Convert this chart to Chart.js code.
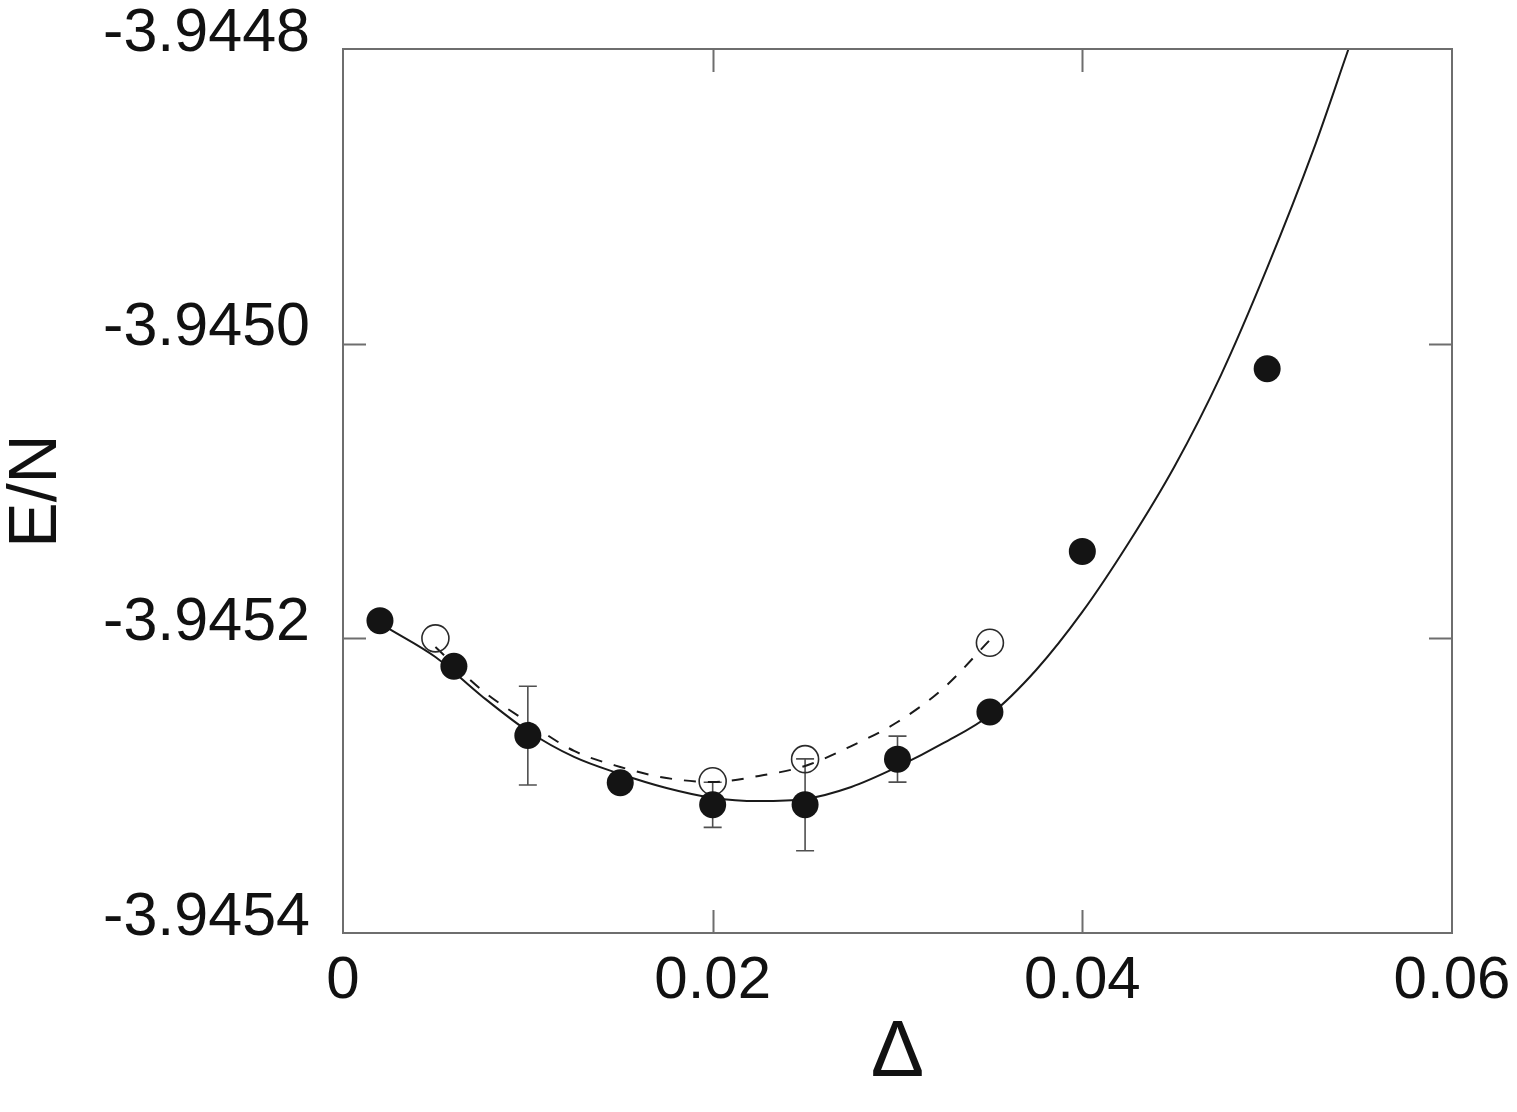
<!DOCTYPE html>
<html>
<head>
<meta charset="utf-8">
<script src="https://cdn.jsdelivr.net/npm/chart.js@4"></script>
<style>
  html, body { margin: 0; padding: 0; background: #fff; }
  #wrap { width: 1517px; height: 1112px; }
</style>
</head>
<body>
<div id="wrap"><canvas id="chart" width="1517" height="1112"></canvas></div>
<script>
// axis ticks
const xTicks = [0, 0.02, 0.04, 0.06];
const yTicks = [-3.9454, -3.9452, -3.9450, -3.9448];

// filled circles (with error bars where present)
const filledX = [0.002, 0.006, 0.010, 0.015, 0.020, 0.025, 0.030, 0.035, 0.040, 0.050];
const filledY = [-3.945188, -3.945219, -3.945266, -3.945298, -3.945313, -3.945313, -3.945282, -3.945250, -3.945141, -3.945017];
const filledErr = [null, null, 0.0000335, null, 0.0000153, 0.0000312, 0.0000156, null, null, null];

// open circles
const openX = [0.005, 0.020, 0.025, 0.035];
const openY = [-3.945200, -3.945297, -3.945282, -3.945203];

// solid fit curve
const fitX = [0.0025, 0.005, 0.0075, 0.010, 0.0125, 0.015, 0.0175, 0.020, 0.0225, 0.025, 0.0275,
  0.030, 0.0325, 0.035, 0.0375, 0.040, 0.0425, 0.045, 0.0475, 0.050, 0.0525, 0.0544];
const fitY = [-3.9451936, -3.9452127, -3.9452391, -3.9452629, -3.9452805, -3.9452921, -3.9453016,
  -3.9453083, -3.9453104, -3.9453090, -3.9453009, -3.9452873, -3.9452710, -3.9452520, -3.9452215,
  -3.9451821, -3.9451353, -3.9450830, -3.9450213, -3.9449486, -3.9448685, -3.9448000];

// dashed fit curve
const dashX = [0.005, 0.0075, 0.010, 0.0125, 0.015, 0.0175, 0.020, 0.0225, 0.025, 0.0275, 0.030, 0.0325, 0.035];
const dashY = [-3.9452059, -3.9452350, -3.9452568, -3.9452764, -3.9452873, -3.9452948, -3.9452975,
  -3.9452934, -3.9452866, -3.9452731, -3.9452568, -3.9452337, -3.9452011];

const pts = (xs, ys) => xs.map((x, i) => ({ x: x, y: ys[i] }));

const FONT = "'Liberation Sans', Arial, Helvetica, sans-serif";
const FRAME = "#6e6e6e";

// frame, inward ticks on all four sides, error bars
const framePlugin = {
  id: "frame",
  beforeDatasetsDraw(chart) {
    const ctx = chart.ctx;
    const xs = chart.scales.x, ys = chart.scales.y;
    ctx.save();
    ctx.strokeStyle = "#505050";
    ctx.lineWidth = 1.6;
    filledErr.forEach((e, i) => {
      if (e == null) return;
      const px = xs.getPixelForValue(filledX[i]);
      const top = ys.getPixelForValue(filledY[i] + e);
      const bot = ys.getPixelForValue(filledY[i] - e);
      ctx.beginPath();
      ctx.moveTo(px, top); ctx.lineTo(px, bot);
      ctx.moveTo(px - 9, top); ctx.lineTo(px + 9, top);
      ctx.moveTo(px - 9, bot); ctx.lineTo(px + 9, bot);
      ctx.stroke();
    });
    ctx.restore();
  },
  afterDatasetsDraw(chart) {
    const ctx = chart.ctx;
    const a = chart.chartArea;
    const xs = chart.scales.x, ys = chart.scales.y;
    const len = 23;
    ctx.save();
    ctx.strokeStyle = FRAME;
    ctx.lineWidth = 2;
    ctx.strokeRect(a.left, a.top, a.right - a.left, a.bottom - a.top);
    ctx.beginPath();
    xTicks.slice(1, -1).forEach(v => {
      const p = Math.round(xs.getPixelForValue(v)) + 0.5;
      ctx.moveTo(p, a.bottom); ctx.lineTo(p, a.bottom - len);
      ctx.moveTo(p, a.top); ctx.lineTo(p, a.top + len);
    });
    yTicks.slice(1, -1).forEach(v => {
      const p = Math.round(ys.getPixelForValue(v)) + 0.5;
      ctx.moveTo(a.left, p); ctx.lineTo(a.left + len, p);
      ctx.moveTo(a.right, p); ctx.lineTo(a.right - len, p);
    });
    ctx.stroke();
    ctx.restore();
  }
};

new Chart(document.getElementById("chart").getContext("2d"), {
  type: "scatter",
  data: {
    datasets: [
      {
        label: "filled",
        data: pts(filledX, filledY),
        pointRadius: 13.5,
        pointBackgroundColor: "#141414",
        pointBorderWidth: 0,
        showLine: false,
        order: 0,
      },
      {
        label: "open",
        data: pts(openX, openY),
        pointRadius: 13.5,
        pointBackgroundColor: "rgba(0,0,0,0)",
        pointBorderColor: "#2a2a2a",
        pointBorderWidth: 1.6,
        showLine: false,
        order: 1,
      },
      {
        label: "fit",
        data: pts(fitX, fitY),
        showLine: true,
        pointRadius: 0,
        borderColor: "#1a1a1a",
        borderWidth: 2,
        cubicInterpolationMode: "monotone",
        order: 2,
      },
      {
        label: "fit dashed",
        data: pts(dashX, dashY),
        showLine: true,
        pointRadius: 0,
        borderColor: "#1a1a1a",
        borderWidth: 2,
        borderDash: [12, 12],
        cubicInterpolationMode: "monotone",
        order: 3,
      },
    ],
  },
  options: {
    responsive: false,
    animation: false,
    events: [],
    layout: { padding: { top: 49, right: 65, bottom: 0, left: 0 } },
    plugins: { legend: { display: false }, tooltip: { enabled: false } },
    scales: {
      x: {
        type: "linear",
        min: 0,
        max: 0.06,
        grid: { display: false, drawTicks: false },
        border: { display: false },
        afterBuildTicks: (s) => { s.ticks = xTicks.map(v => ({ value: v })); },
        afterFit: (s) => { s.height = 179; s.paddingLeft = 0; s.paddingRight = 0; },
        ticks: {
          padding: 12,
          color: "#111",
          font: { family: FONT, size: 60 },
          maxRotation: 0,
          autoSkip: false,
          callback: (v) => (v === 0 ? "0" : Number(v).toFixed(2)),
        },
        title: {
          display: true,
          text: "Δ",
          color: "#111",
          font: { family: FONT, size: 80, lineHeight: 1 },
          padding: { top: 0, bottom: 18 },
        },
      },
      y: {
        type: "linear",
        min: -3.9454,
        max: -3.9448,
        grid: { display: false, drawTicks: false },
        border: { display: false },
        afterBuildTicks: (s) => { s.ticks = yTicks.map(v => ({ value: v })); },
        afterFit: (s) => { s.width = 343; s.paddingTop = 0; s.paddingBottom = 0; },
        ticks: {
          padding: 33,
          labelOffset: -15,
          color: "#111",
          font: { family: FONT, size: 61 },
          autoSkip: false,
          callback: (v) => Number(v).toFixed(4),
        },
        title: {
          display: true,
          text: "E/N",
          color: "#111",
          font: { family: FONT, size: 68, lineHeight: 1 },
          padding: { top: 3, bottom: 0 },
        },
      },
    },
  },
  plugins: [framePlugin],
});
</script>
</body>
</html>
